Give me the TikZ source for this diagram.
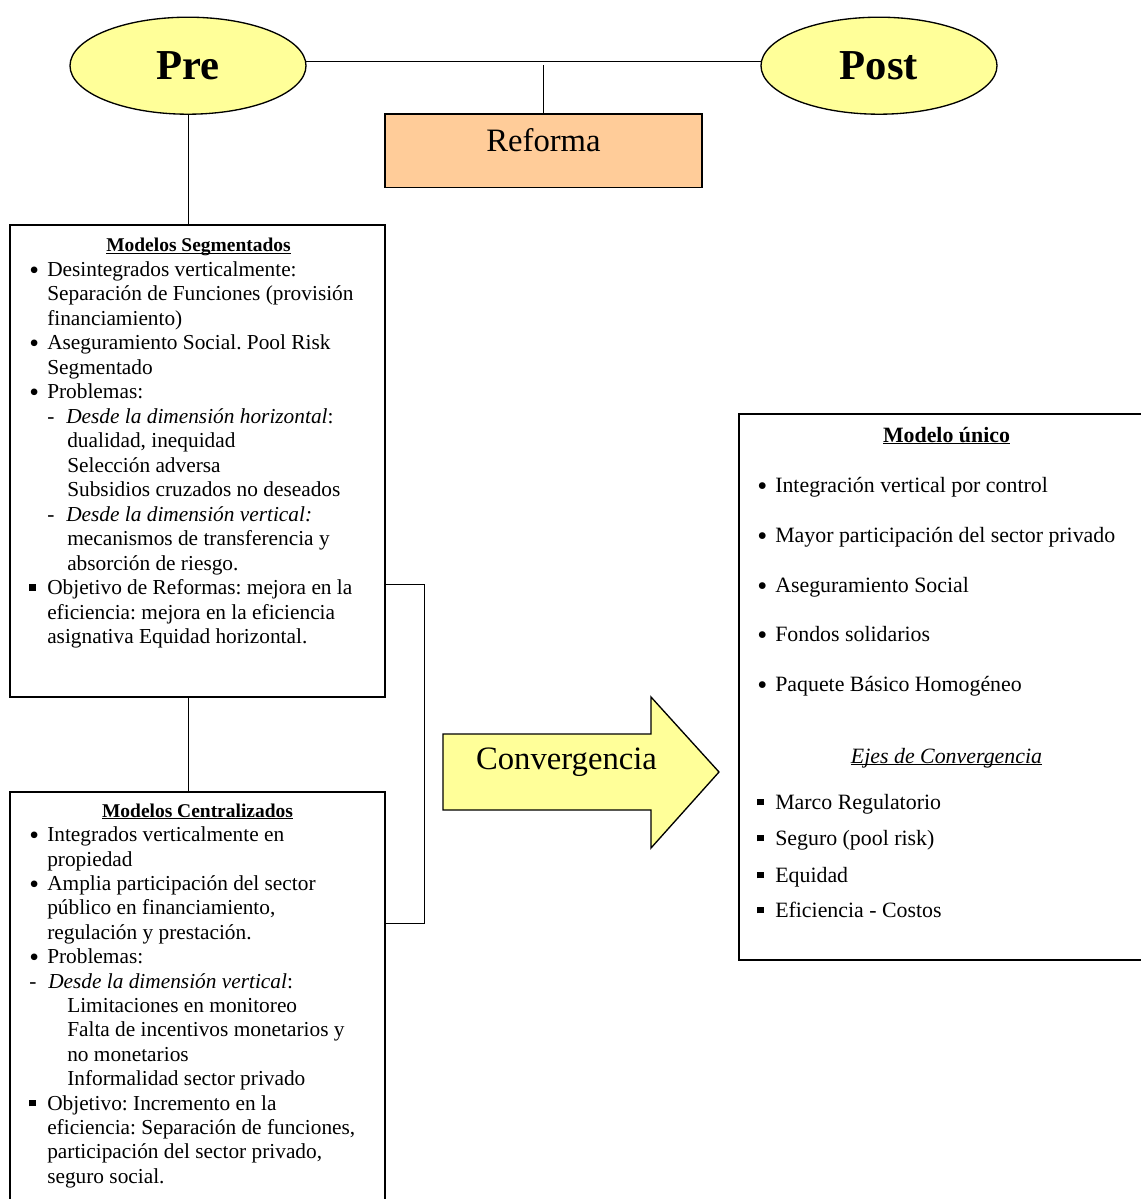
\documentclass[tikz,border=0pt]{standalone}
\usepackage{fontspec}
\setmainfont{Liberation Serif}
\usetikzlibrary{shapes.geometric,backgrounds}
\definecolor{paleyellow}{HTML}{FFFF99}
\definecolor{peach}{HTML}{FFCC99}
\newcommand{\bul}{\makebox[13.5pt][l]{\raisebox{-2.4pt}{\scalebox{1.3}{\textbullet}}}}
\newcommand{\sqb}{\makebox[13.5pt][l]{\raisebox{2.8pt}{\rule{5pt}{5pt}}}}
\newcommand{\indt}{\hspace*{13.5pt}}
\newcommand{\dsh}{\makebox[14.25pt][l]{-}}
\newcommand{\subind}{\hspace*{28.5pt}}
\newcommand{\undl}[1]{\setbox0\hbox{#1}\rlap{\copy0}\rule[-1.8pt]{\wd0}{0.9pt}}
\frenchspacing
\tikzset{
  oval/.style={ellipse,draw,line width=1pt,fill=paleyellow,inner sep=0,
    minimum width=177pt,minimum height=72.75pt,font=\fontsize{32}{36}\selectfont\bfseries},
  panel/.style={draw,line width=1pt,inner sep=0},
  conn/.style={line width=0.7pt},
  ttl/.style={anchor=base,inner sep=0,font=\fontsize{14.6}{17}\selectfont\bfseries},
  txtline/.style={anchor=base west,inner sep=0,font=\fontsize{16}{18}\selectfont}
}

\begin{document}
\begin{tikzpicture}[x=0.75pt,y=-0.75pt]
  \useasboundingbox (0,0) rectangle (1141,1199);
  \clip (0,0) rectangle (1141,1199);
  % top row
  \node[oval] (pre) at (188,65.7) {Pre};
  \node[oval] (post) at (879,65.7) {Post};
  \node[panel,fill=peach,minimum width=237.75pt,text height=28.3pt,text depth=27pt,
    font=\fontsize{24.5}{28}\selectfont] (reforma) at (543.5,150.85) {Reforma};
  \begin{scope}[on background layer]
    \draw[conn] ([yshift=3.5pt]pre.center) -- ([yshift=3.5pt]post.center);
  \end{scope}
  \draw[conn] (reforma.north) -- ++(0,-48.3);

  % boxes
  \node[panel,minimum width=281.25pt,minimum height=354pt] (seg) at (197.5,461) {};
  \node[panel,minimum width=281.25pt,minimum height=315pt] (cen) at (197.5,1002) {};
  \node[panel,minimum width=310.5pt,minimum height=409.5pt] (unico) at (946,687) {};
  \draw[conn] (pre.south) -- (pre.south |- seg.north);
  \draw[conn] (pre.south |- seg.south) -- (pre.south |- cen.north);
  \draw[conn] (seg.east |- 0,584) -- ++(39,0) |- (cen.east |- 0,923);

  % Modelos Segmentados
  \node[ttl] (segttl) at (198.5,251.7) {\undl{Modelos Segmentados}};
  \foreach \txt [count=\i from 0] in {
    {\bul Desintegrados verticalmente:},
    {\indt Separación de Funciones (provisión},
    {\indt financiamiento)},
    {\bul Aseguramiento Social. Pool Risk},
    {\indt Segmentado},
    {\bul Problemas:},
    {\indt\dsh\textit{Desde la dimensión horizontal}:},
    {\subind dualidad, inequidad},
    {\subind Selección adversa},
    {\subind Subsidios cruzados no deseados},
    {\indt\dsh\textit{Desde la dimensión vertical:}},
    {\subind mecanismos de transferencia y},
    {\subind absorción de riesgo.},
    {\sqb Objetivo de Reformas: mejora en la},
    {\indt eficiencia: mejora en la eficiencia},
    {\indt asignativa Equidad horizontal.}}
    \node[txtline] (seg\i) at (29,276+24.5*\i) {\txt};

  % Modelos Centralizados
  \node[ttl] (centtl) at (197.5,817) {\undl{Modelos Centralizados}};
  \foreach \txt [count=\i from 0] in {
    {\bul Integrados verticalmente en},
    {\indt propiedad},
    {\bul Amplia participación del sector},
    {\indt público en financiamiento,},
    {\indt regulación y prestación.},
    {\bul Problemas:},
    {\dsh\textit{Desde la dimensión vertical}:},
    {\subind Limitaciones en monitoreo},
    {\subind Falta de incentivos monetarios y},
    {\subind no monetarios},
    {\subind Informalidad sector privado},
    {\sqb Objetivo: Incremento en la},
    {\indt eficiencia: Separación de funciones,},
    {\indt participación del sector privado,},
    {\indt seguro social.}}
    \node[txtline] (cen\i) at (29,841.7+24.4*\i) {\txt};

  % Modelo unico
  \node[ttl,font=\fontsize{16.4}{19}\selectfont\bfseries] (unittl) at (946.5,442) {\undl{Modelo único}};
  \foreach \txt/\yy [count=\i] in {Integración vertical por control/492,
    Mayor participación del sector privado/542, Aseguramiento Social/592,
    Fondos solidarios/641, Paquete Básico Homogéneo/691}
    \node[txtline,font=\fontsize{16.4}{19}\selectfont] (uni\i) at (757,\yy) {\bul\txt};
  \node[ttl,font=\fontsize{16.4}{19}\selectfont\itshape] (ejes) at (946.5,763) {\undl{Ejes de Convergencia}};
  \foreach \txt/\yy [count=\i] in {Marco Regulatorio/809, Seguro (pool risk)/845,
    Equidad/882, Eficiencia - Costos/917}
    \node[txtline,font=\fontsize{16.4}{19}\selectfont] (eje\i) at (757,\yy) {\sqb\txt};

  % arrow
  \draw[line width=1pt,fill=paleyellow] (443,734) -- (651,734) -- (651,697) -- (719,772)
    -- (651,848) -- (651,810) -- (443,810) -- cycle;
  \node[anchor=base,inner sep=0,font=\fontsize{24.5}{28}\selectfont] (conv) at (566.5,769) {Convergencia};
\end{tikzpicture}
\end{document}
